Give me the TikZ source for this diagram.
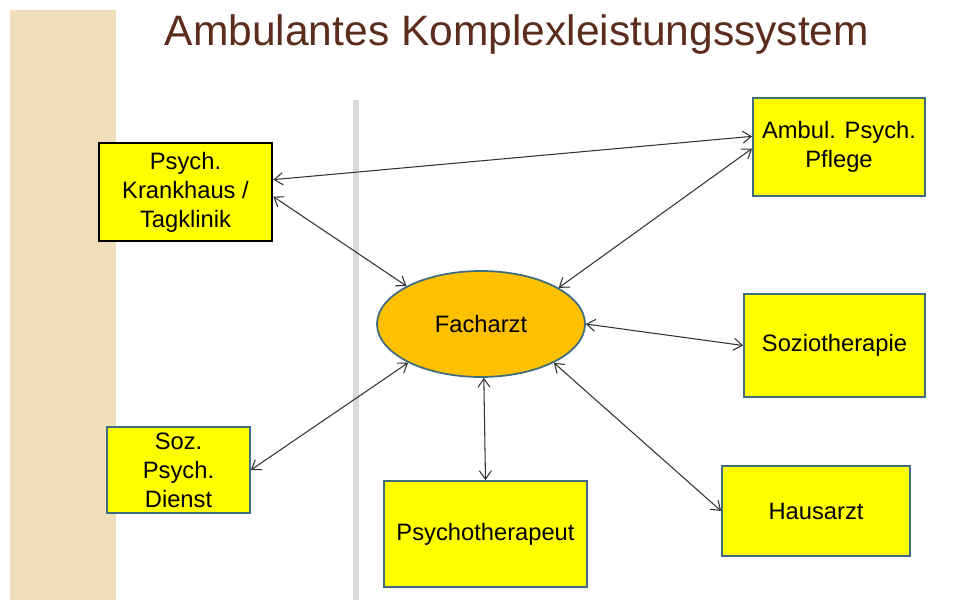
\documentclass[tikz,border=0pt]{standalone}
\usepackage{fontspec}
\setmainfont{Liberation Sans}
\usepackage{tikz}
\usetikzlibrary{arrows.meta,shapes.geometric}
\newlength\px
\setlength\px{0.2mm}
\definecolor{stripbeige}{RGB}{239,222,184}
\definecolor{linegray}{RGB}{218,218,218}
\definecolor{titlebrown}{RGB}{92,45,28}
\definecolor{boxyellow}{RGB}{255,255,0}
\definecolor{ellorange}{RGB}{255,192,0}
\definecolor{boxedge}{RGB}{62,108,128}

\begin{document}
\begin{tikzpicture}[x=0.2mm, y=-0.2mm,
  box/.style={draw=boxedge, line width=1pt, fill=boxyellow, align=center,
    font=\fontsize{13.5}{16.5}\selectfont},
  link/.style={<->, >={Straight Barb[length=1.7mm, width=2.4mm]},
    line width=0.6pt, draw=black!80}]
\useasboundingbox (0,0) rectangle (957,600);
\fill [white] (0,0) rectangle (957,600);
\fill [stripbeige] (10,10) rectangle (116,600);
\fill [linegray] (353,100) rectangle (359,600);
\node [titlebrown, font=\fontsize{24.2}{28}\selectfont] (title) at (517,35)
  {Ambulantes Komplexleistungssystem};
\node [box, draw=black, line width=1.5pt, minimum width=173\px, minimum height=98\px]
  (kh) at (185.5,192) {Psych.\\Krankhaus /\\Tagklinik};
\node [box, minimum width=172\px, minimum height=98\px]
  (am) at (839,147) {Ambul. Psych.\\Pflege};
\node [box, minimum width=181\px, minimum height=103\px]
  (so) at (834.5,345.5) {Soziotherapie};
\node [box, minimum width=188\px, minimum height=90\px]
  (ha) at (816,511) {Hausarzt};
\node [box, minimum width=203\px, minimum height=106\px]
  (pt) at (485.5,534) {Psychotherapeut};
\node [box, minimum width=143\px, minimum height=84\px]
  (sd) at (178.5,470) {Soz.\\Psych.\\Dienst};
\node [ellipse, draw=boxedge, line width=1pt, fill=ellorange, inner sep=0pt,
  minimum width=208\px, minimum height=106\px,
  font=\fontsize{13.5}{16.5}\selectfont] (fa) at (481,324) {Facharzt};
\draw [link] (kh.8) -- (am.173);
\draw [link] (kh.-3) -- (fa.153);
\draw [link] (am.181) -- (fa.25);
\draw [link] (fa.east) -- (so.west);
\draw [link] (fa.-28) -- (ha.west);
\draw [link] (fa.-87) -- (pt.north);
\draw [link] (fa.208) -- (sd.east);
\end{tikzpicture}
\end{document}
